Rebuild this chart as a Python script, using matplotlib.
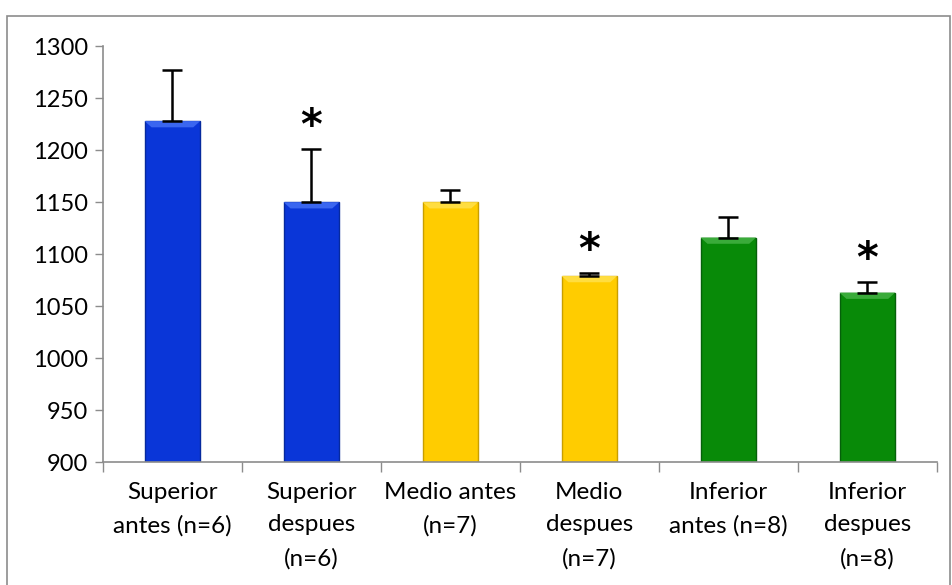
import numpy as np
import matplotlib.pyplot as plt
from matplotlib.patches import Rectangle

# grupos y valores medios con su error
categorias = ['Superior\nantes (n=6)', 'Superior\ndespues\n(n=6)', 'Medio antes\n(n=7)',
              'Medio\ndespues\n(n=7)', 'Inferior\nantes (n=8)', 'Inferior\ndespues\n(n=8)']
medias = [1228, 1150, 1150, 1079, 1116, 1063]
errores = [49, 51, 12, 3, 20, 10]
significativo = [False, True, False, True, False, True]
colores = ['#0a36d8', '#0a36d8', '#ffcc00', '#ffcc00', '#088a08', '#088a08']
bordes = ['#062a9e', '#062a9e', '#c89e00', '#c89e00', '#05600a', '#05600a']
brillos = ['#3a66f0', '#3a66f0', '#ffdd40', '#ffdd40', '#3aab3a', '#3aab3a']

plt.rcParams['font.family'] = ['Lato', 'DejaVu Sans']

fig = plt.figure(figsize=(9.53, 5.85), dpi=100)
ax = fig.add_axes([0.108, 0.21, 0.875, 0.711])

x = np.arange(len(medias))
ancho = 0.4
ax.bar(x, [m - 900 for m in medias], bottom=900, width=ancho, color=colores,
       edgecolor=bordes, linewidth=1.0, zorder=2)
# biselado claro en la parte superior de cada barra
for xi, m, b in zip(x, medias, brillos):
    ax.fill([xi - ancho / 2, xi + ancho / 2, xi + ancho / 2 - 0.05, xi - ancho / 2 + 0.05],
            [m, m, m - 6, m - 6], color=b, zorder=2.5, lw=0)
ax.errorbar(x, medias, yerr=[np.zeros(len(errores)), errores], fmt='none',
            ecolor='black', elinewidth=1.8, capsize=7, capthick=1.8, zorder=3)

# asterisco sobre los grupos con diferencia significativa
for xi, m, e, s in zip(x, medias, errores, significativo):
    if s:
        ax.annotate('*', (xi, m + e), xytext=(0, 1), textcoords='offset points',
                    ha='center', va='bottom', fontsize=30, fontweight='bold',
                    family=['DejaVu Sans'])

ax.set_xlim(-0.5, len(medias) - 0.5)
ax.set_ylim(900, 1300)
ax.set_yticks(np.arange(900, 1301, 50))
ax.tick_params(axis='y', labelsize=17, length=6, color='#8c8c8c', width=1, pad=5)

ax.set_xticks(x)
ax.set_xticklabels(categorias, fontsize=17.5, va='top', linespacing=1.7)
ax.tick_params(axis='x', length=0, pad=14)
ax.set_xticks(np.arange(-0.5, len(medias)), minor=True)
ax.tick_params(axis='x', which='minor', length=7, color='#8c8c8c', width=1)

for lado in ['top', 'right']:
    ax.spines[lado].set_visible(False)
for lado in ['left', 'bottom']:
    ax.spines[lado].set_color('#8c8c8c')
    ax.spines[lado].set_linewidth(1.2)

# marco del grafico
fig.patches.append(Rectangle((0.007, -0.01), 0.99, 0.983, transform=fig.transFigure,
                             fill=False, edgecolor='#8c8c8c', linewidth=1.2))

fig.savefig('out.png', dpi=100)
